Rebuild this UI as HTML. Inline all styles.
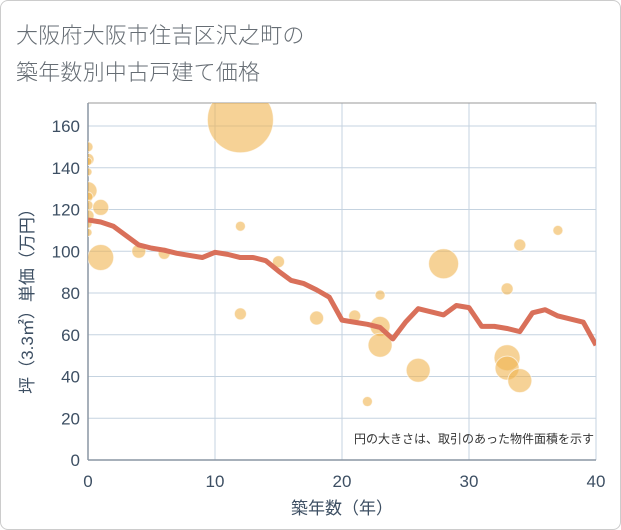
<!DOCTYPE html>
<html><head><meta charset="utf-8"><style>
body{margin:0;background:#fff}
#wrap{position:relative;width:619px;height:528px;border:1px solid #ccc;border-radius:8px;overflow:hidden;font-family:"Liberation Sans","Noto Sans CJK JP",sans-serif}
.t{position:absolute;left:15px;font-size:22px;color:#666d74;font-weight:300;letter-spacing:0.2px}
</style></head><body>
<div id="wrap">
<div class="t" style="top:17px">大阪府大阪市住吉区沢之町の</div>
<div class="t" style="top:54px">築年数別中古戸建て価格</div>
<svg id="c" width="621" height="530" style="position:absolute;left:-1px;top:-1px"></svg>
</div>
<script>
const lineYears=[0,1,2,3,4,5,6,7,8,9,10,11,12,13,14,15,16,17,18,19,20,21,22,23,24,25,26,27,28,29,30,31,32,33,34,35,36,37,38,39,40];
const lineValues=[115,114,112,107.5,103,101.5,100.5,99,98,97,99.5,98.5,97,97,95.5,90.5,86,84.5,81.5,78,67,66,65,63.5,58,66,72.5,71,69.5,74,73,64,64,63,61.5,70.5,72,69,67.5,66,55];
const bubbleYears=[12,0,0,0,0,0,0,0,1,0,0,0,1,4,6,12,15,12,18,21,23,23,23,22,26,28,33,34,37,33,33,34];
const bubbleValues=[163,150,144,143,138,129,126,122,121,117,113,109,97,100,99,112,95,70,68,69,79,64,55,28,43,94,82,103,110,49,44,38];
const bubbleSizes=[33,5,6,4,4,9,5,5,8,6,4,4,13,7,6,5,6,6,7,6,5,10,12,5,12,15,6,6,5,13,12,12];
const xTicks=[0,10,20,30,40];
const yTicks=[0,20,40,60,80,100,120,140,160];
const NS="http://www.w3.org/2000/svg",svg=document.getElementById('c');
const X0=88,X1=596,Y0=460,YT=103;
const sx=v=>X0+(v/40)*(X1-X0);
const sy=v=>Y0-v*(460-126)/160;
function mk(t,a,p){const e=document.createElementNS(NS,t);for(const k in a)e.setAttribute(k,a[k]);(p||svg).appendChild(e);return e;}
const clip=mk('clipPath',{id:'pc'});mk('rect',{x:X0,y:YT,width:X1-X0,height:Y0-YT},clip);
for(const v of yTicks){const g=mk('line',{x1:X0,x2:X1,y1:sy(v),y2:sy(v),stroke:'#c5d3e0','stroke-width':1});

const t=mk('text',{x:X0-8,y:sy(v)+6,'text-anchor':'end','font-size':17,fill:'#3d4f63'});t.textContent=v;
}
for(const v of xTicks){const g=mk('line',{x1:sx(v),x2:sx(v),y1:YT,y2:Y0,stroke:'#c5d3e0','stroke-width':1});

const t=mk('text',{x:sx(v),y:487,'text-anchor':'middle','font-size':17,fill:'#3d4f63'});t.textContent=v;
}
mk('line',{x1:X0,x2:X0,y1:YT,y2:Y0,stroke:'#8a96a3','stroke-width':1.5});
mk('line',{x1:X0,x2:X1,y1:Y0,y2:Y0,stroke:'#8a96a3','stroke-width':1.5});
mk('line',{x1:X0,x2:X1,y1:YT,y2:YT,stroke:'#999','stroke-width':1});
const bg=mk('g',{'clip-path':'url(#pc)'});
bubbleYears.forEach((yr,i)=>{const c=mk('circle',{cx:sx(yr),cy:sy(bubbleValues[i]),r:bubbleSizes[i],fill:'rgba(240,180,80,0.6)',stroke:'rgba(255,255,255,0.6)','stroke-width':1},bg);
});
const lg=mk('g',{'clip-path':'url(#pc)'});
const pl=mk('polyline',{points:lineYears.map((y,i)=>sx(y)+','+sy(lineValues[i])).join(' '),fill:'none',stroke:'#d9705a','stroke-width':5,'stroke-linejoin':'round'},lg);

const n=mk('text',{x:594,y:443,'text-anchor':'end','font-size':12,fill:'#333'});n.textContent='円の大きさは、取引のあった物件面積を示す';

const xt=mk('text',{x:342,y:514,'text-anchor':'middle','font-size':17,fill:'#3d4f63'});xt.textContent='築年数（年）';

const yt=mk('text',{x:0,y:0,'text-anchor':'middle','font-size':17,fill:'#3d4f63',transform:'translate(33,297) rotate(-90)'});yt.textContent='坪（3.3㎡）単価（万円）';

</script>
</body></html>
